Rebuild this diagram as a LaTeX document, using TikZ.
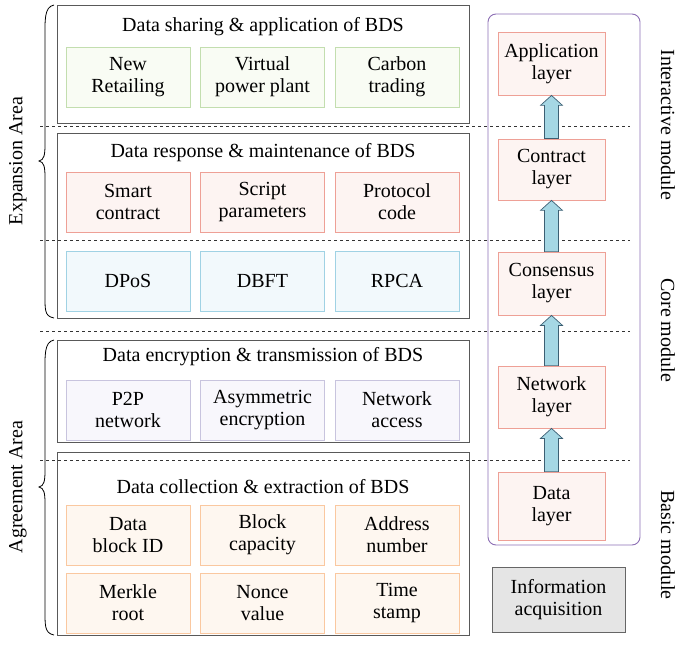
\documentclass[tikz,border=0pt]{standalone}
\usepackage{fontspec}
\setmainfont{Liberation Serif}
\definecolor{gB}{RGB}{195,222,175}\definecolor{gF}{RGB}{249,252,244}
\definecolor{rB}{RGB}{238,160,150}\definecolor{rF}{RGB}{253,244,242}
\definecolor{bB}{RGB}{160,210,228}\definecolor{bF}{RGB}{242,249,252}
\definecolor{pB}{RGB}{200,196,222}\definecolor{pF}{RGB}{248,247,252}
\definecolor{oB}{RGB}{250,200,160}\definecolor{oF}{RGB}{254,247,240}
\definecolor{aF}{RGB}{165,215,228}\definecolor{aB}{RGB}{60,95,115}
\definecolor{mod}{RGB}{140,110,180}
\begin{document}
\begin{tikzpicture}[x=1pt,y=-1pt,font=\fontsize{20}{22}\selectfont,
 outer/.style={draw=black!65,line width=0.8pt},
 cell/.style={minimum width=124pt,minimum height=60pt,align=center,line width=0.8pt,inner sep=1pt},
 G/.style={cell,draw=gB,fill=gF},R/.style={cell,draw=rB,fill=rF},
 B/.style={cell,draw=bB,fill=bF},P/.style={cell,draw=pB,fill=pF},
 O/.style={cell,draw=oB,fill=oF},
 lay/.style={draw=rB,fill=rF,line width=0.8pt,minimum width=107pt,align=center,inner sep=1pt},
 up/.style={draw=aB,fill=aF,line width=0.7pt},
 dsh/.style={dashed,line width=0.9pt,black!80}]
\useasboundingbox (0,0) rectangle (685,647);
\draw[outer] (57,5) rectangle (469,123);
\draw[outer] (57,133) rectangle (469,318);
\draw[outer] (57,340) rectangle (469,442);
\draw[outer] (57,452) rectangle (469,635);
\node (t1) at (263,27) {Data sharing \& application of BDS};
\node (t2) at (263,153) {Data response \& maintenance of BDS};
\node (t3) at (263,357) {Data encryption \& transmission of BDS};
\node (t4) at (263,487) {Data collection \& extraction of BDS};
\node[G] (g1) at (128,77) {New\\Retailing};
\node[G] (g2) at (262.5,77) {Virtual\\power plant};
\node[G] (g3) at (397,77) {Carbon\\trading};
\node[R] (r1) at (128,202) {Smart\\contract};
\node[R] (r2) at (262.5,202) {Script\\parameters};
\node[R] (r3) at (397,202) {Protocol\\code};
\node[B] (b1) at (128,281) {DPoS};
\node[B] (b2) at (262.5,281) {DBFT};
\node[B] (b3) at (397,281) {RPCA};
\node[P] (p1) at (128,410) {P2P\\network};
\node[P] (p2) at (262.5,410) {Asymmetric\\encryption};
\node[P] (p3) at (397,410) {Network\\access};
\node[O] (o1) at (128,535) {Data\\block ID};
\node[O] (o2) at (262.5,535) {Block\\capacity};
\node[O] (o3) at (397,535) {Address\\number};
\node[O] (o4) at (128,603) {Merkle\\root};
\node[O] (o5) at (262.5,603) {Nonce\\value};
\node[O] (o6) at (397,603) {Time\\stamp};
\foreach \y in {126,240,331,460} \draw[dsh] (40,\y) -- (630,\y);
\draw[line width=0.8pt] (54,5) .. controls (44,7) and (45,20) .. (45,40) -- (45,145) .. controls (45,155) and (44,160) .. (39,161) .. controls (44,162) and (45,167) .. (45,177) -- (45,290) .. controls (45,310) and (44,316) .. (54,318);
\draw[line width=0.8pt] (54,340) .. controls (44,342) and (45,355) .. (45,375) -- (45,471) .. controls (45,481) and (44,486) .. (39,487) .. controls (44,488) and (45,493) .. (45,503) -- (45,605) .. controls (45,625) and (44,633) .. (54,635);
\node[rotate=90] (ea) at (18,161) {Expansion Area};
\node[rotate=90] (aa) at (18,487) {Agreement Area};
\draw[mod,line width=0.9pt,rounded corners=8pt] (488,14) rectangle (640,545);
\node[lay,minimum height=63pt] (l1) at (551.5,63.5) {Application\\layer};
\node[lay,minimum height=61pt] (l2) at (551.5,169.5) {Contract\\layer};
\node[lay,minimum height=63pt] (l3) at (551.5,283.5) {Consensus\\layer};
\node[lay,minimum height=62pt] (l4) at (551.5,397) {Network\\layer};
\node[lay,minimum height=68pt] (l5) at (551.5,506) {Data\\layer};
\foreach \a/\b in {l1/l2,l2/l3,l3/l4,l4/l5}{
 \draw[up] ([xshift=-7pt]\b.north) -- ([xshift=-7pt,yshift=-10pt]\a.south) -- ([xshift=-11pt,yshift=-10pt]\a.south) -- (\a.south) -- ([xshift=11pt,yshift=-10pt]\a.south) -- ([xshift=7pt,yshift=-10pt]\a.south) -- ([xshift=7pt]\b.north) -- cycle;}
\node[draw=black!60,fill=black!10,line width=0.8pt,minimum width=133pt,minimum height=65pt,align=center,inner sep=1pt] (ia) at (558.5,599.5) {Information\\acquisition};
\node[rotate=-90] (m1) at (668,125) {Interactive module};
\node[rotate=-90] (m2) at (668,330) {Core module};
\node[rotate=-90] (m3) at (668,545) {Basic module};
\end{tikzpicture}
\end{document}
